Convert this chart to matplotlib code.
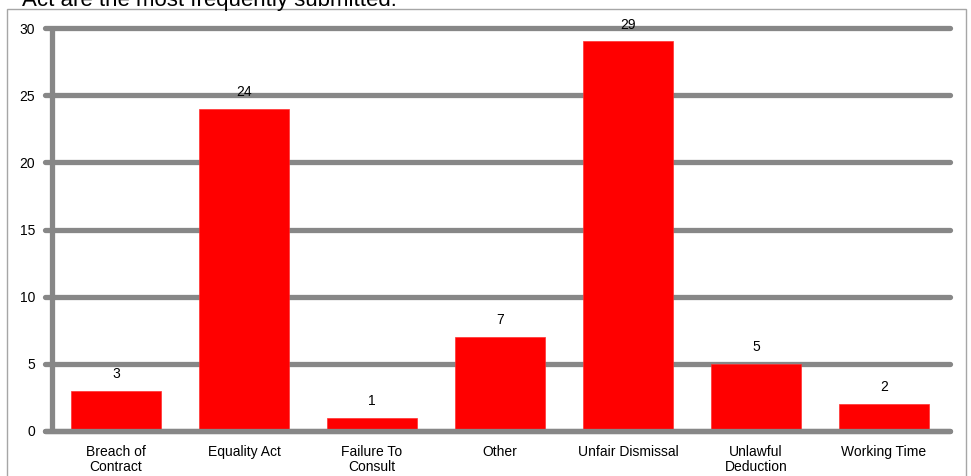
import matplotlib.pyplot as plt
from matplotlib.patches import Rectangle

plt.rcParams['font.family'] = ['Liberation Sans', 'DejaVu Sans']

categories = ["Breach of\nContract", "Equality Act", "Failure To\nConsult", "Other",
              "Unfair Dismissal", "Unlawful\nDeduction", "Working Time"]
counts = [3, 24, 1, 7, 29, 5, 2]
yticks = [0, 5, 10, 15, 20, 25, 30]

grid_color = "#878787"

fig = plt.figure(figsize=(9.71, 4.76), dpi=100)
fig.patches.append(Rectangle((7 / 971, -0.05), 959 / 971, 1.05 - 9 / 476,
                             transform=fig.transFigure, fill=False,
                             edgecolor="#a6a6a6", linewidth=1))
# heading from the page above, cut off by the crop
fig.text(22 / 971, 1 - 6 / 476, "Act are the most frequently submitted.",
         fontsize=16, va="baseline", ha="left")

ax = fig.add_axes([52 / 971, 45 / 476, 896 / 971, 403 / 476])
x = range(len(categories))
bars = ax.bar(x, counts, width=0.71, color="#ff0000", edgecolor="#ff3030",
              linewidth=0.5, zorder=2)

ax.hlines(yticks, -0.555, 6.515, color=grid_color, linewidth=3.8,
          capstyle="round", clip_on=False, zorder=1)
ax.hlines([0], -0.555, 6.515, color=grid_color, linewidth=3.8,
          capstyle="round", clip_on=False, zorder=3)
ax.vlines([-0.5], 0, 30, color=grid_color, linewidth=3.8, clip_on=False, zorder=3)

for b, v in zip(bars, counts):
    ax.annotate(str(v), (b.get_x() + b.get_width() / 2, v), xytext=(0, 7),
                textcoords="offset points", ha="center", va="bottom", fontsize=10)

ax.set_xlim(-0.5, 6.5)
ax.set_ylim(0, 30)
ax.set_yticks(yticks)
ax.set_xticks(list(x))
ax.set_xticklabels(categories, fontsize=10, linespacing=1.1)
ax.tick_params(axis="both", length=0, labelsize=10)
ax.tick_params(axis="y", pad=12)
ax.tick_params(axis="x", pad=10)
for s in ax.spines.values():
    s.set_visible(False)

fig.savefig("out.png", dpi=100)
